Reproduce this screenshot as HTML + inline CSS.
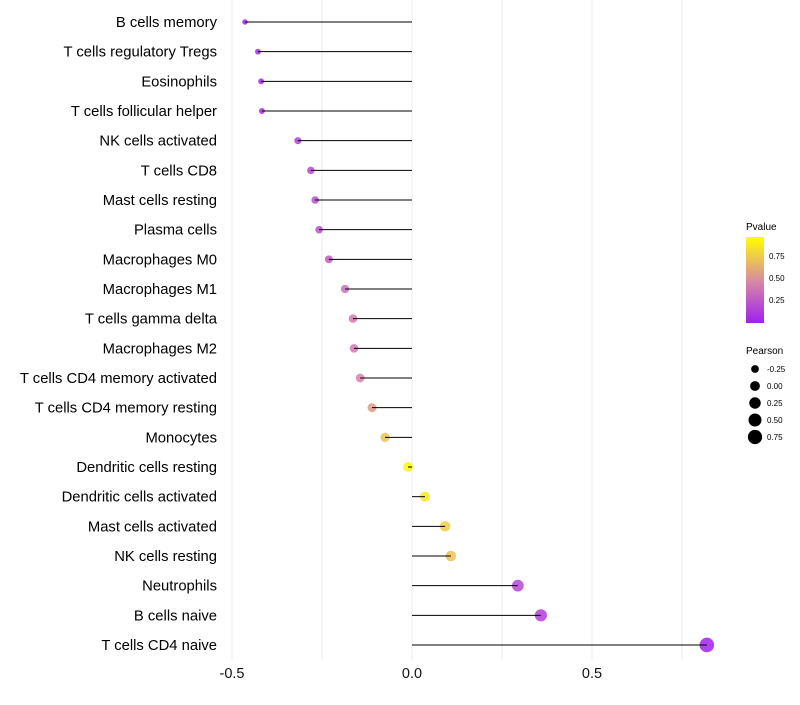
<!DOCTYPE html>
<html><head><meta charset="utf-8"><style>
body{margin:0;background:#fff;font-family:"Liberation Sans",sans-serif}
</style></head><body>
<svg id="chart" width="800" height="700" xmlns="http://www.w3.org/2000/svg" font-family="Liberation Sans, sans-serif">
<defs><linearGradient id="pg" x1="0" y1="1" x2="0" y2="0">
<stop offset="0" stop-color="#a020f0"/><stop offset="0.5" stop-color="#d98ca0"/><stop offset="1" stop-color="#ffff00"/></linearGradient></defs>
<g id="grid"></g><g id="marks"></g><g id="labels"></g>
<g>
<text x="746" y="230" font-size="10">Pvalue</text>
<rect x="746" y="237" width="18" height="86" fill="url(#pg)"/>
<text x="769" y="259" font-size="8">0.75</text>
<text x="769" y="281" font-size="8">0.50</text>
<text x="769" y="303" font-size="8">0.25</text>
</g>
<g id="sizeleg">
<text x="746" y="354" font-size="10">Pearson</text>
</g>
</svg>
<script>
const categories=["B cells memory","T cells regulatory  Tregs ","Eosinophils","T cells follicular helper","NK cells activated","T cells CD8","Mast cells resting","Plasma cells","Macrophages M0","Macrophages M1","T cells gamma delta","Macrophages M2","T cells CD4 memory activated","T cells CD4 memory resting","Monocytes","Dendritic cells resting","Dendritic cells activated","Mast cells activated","NK cells resting","Neutrophils","B cells naive","T cells CD4 naive"];
const pearson=[-0.464,-0.428,-0.419,-0.417,-0.317,-0.281,-0.269,-0.258,-0.231,-0.186,-0.164,-0.161,-0.144,-0.111,-0.075,-0.011,0.036,0.092,0.108,0.294,0.358,0.819];
const pvalues=[0.02,0.05,0.06,0.07,0.15,0.2,0.22,0.25,0.3,0.4,0.45,0.45,0.5,0.6,0.75,0.97,0.9,0.8,0.75,0.2,0.15,0.01];
const xTicks=[-0.5,0,0.5];
const xTickLabels=["-0.5","0.0","0.5"];
const sizeLegendValues=[-0.25,0,0.25,0.5,0.75];
const sizeLegendLabels=["-0.25","0.00","0.25","0.50","0.75"];
const NS="http://www.w3.org/2000/svg";
const x=v=>412+v*360;
const y=i=>22+i*(623/21);
const r=v=>Math.sqrt(Math.max(2.2,24+36*v));
function lerp(a,b,t){return a.map((c,k)=>Math.round(c+(b[k]-c)*t));}
function col(p){const s=[[160,32,240],[217,130,170],[255,255,0]];const q=p<0.5?lerp(s[0],s[1],p/0.5):lerp(s[1],s[2],(p-0.5)/0.5);return `rgb(${q})`;}
function mk(t,a,parent){const e=document.createElementNS(NS,t);for(const k in a)e.setAttribute(k,a[k]);document.getElementById(parent).appendChild(e);return e;}
for(let v=-0.5;v<=0.76;v+=0.25){const g=mk('line',{x1:x(v),x2:x(v),y1:0,y2:660,stroke:'#ebebeb','stroke-width':1},'grid');

}
xTicks.forEach((t,i)=>{const e=mk('text',{x:x(t),y:678,'font-size':14.5,'text-anchor':'middle',fill:'#111'},'labels');e.textContent=xTickLabels[i];

});
categories.forEach((c,i)=>{
const t=mk('text',{x:217,y:y(i)+5,'font-size':14.8,'text-anchor':'end',fill:'#000'},'labels');t.textContent=c;


const p=mk('circle',{cx:x(pearson[i]),cy:y(i),r:r(pearson[i]),fill:col(pvalues[i]),'fill-opacity':0.85},'marks');


const l=mk('line',{x1:x(0),x2:x(pearson[i]),y1:y(i),y2:y(i),stroke:'#000','stroke-width':1},'marks');


});
sizeLegendValues.forEach((v,i)=>{const cy=369+i*17;
const c=mk('circle',{cx:755,cy:cy,r:r(v),fill:'#000'},'sizeleg');


const t=mk('text',{x:767,y:cy+3,'font-size':8},'sizeleg');t.textContent=sizeLegendLabels[i];

});
</script>
</body></html>
